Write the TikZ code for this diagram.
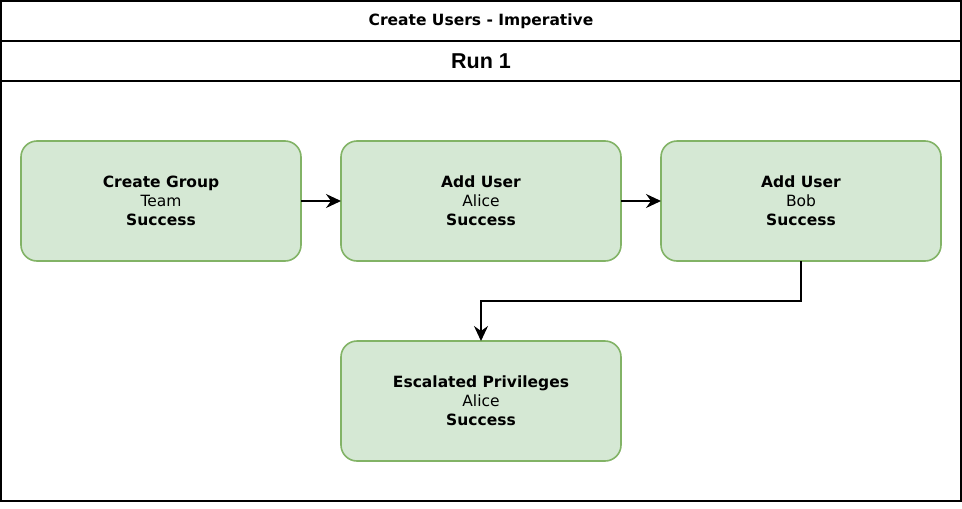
\documentclass[tikz,border=0pt]{standalone}
\usepackage{fontspec}
\setmainfont{DejaVu Sans}
\newfontfamily\runfont{Liberation Sans}
\usetikzlibrary{positioning,arrows.meta}
\definecolor{taskfill}{HTML}{D5E8D4}
\definecolor{taskline}{HTML}{82B366}
\begin{document}
\begin{tikzpicture}[x=1pt, y=-1pt,
lane/.style={draw, line width=2pt, minimum width=960pt, inner sep=0pt},
task/.style={draw=taskline, fill=taskfill, line width=1.6pt, rounded corners=16pt,
  minimum width=280pt, minimum height=120pt, align=center, outer sep=0pt,
  font=\fontsize{15.5}{19}\selectfont},
flow/.style={-{Stealth[length=15pt,width=14pt,inset=5pt]}, line width=1.8pt}]
\useasboundingbox (0,0) rectangle (962,509);
% pool and lane
\node[lane, minimum height=40pt, font=\bfseries\fontsize{15.5}{18}\selectfont] (title) at (481,21) {Create Users - Imperative};
\node[lane, minimum height=40pt, font=\runfont\bfseries\fontsize{21.5}{24}\selectfont] (run) at (481,61) {Run 1};
\node[lane, minimum height=420pt] (body) at (481,291) {};
% tasks
\node[task] (group) at (161,201) {\textbf{Create Group}\\Team\\\textbf{Success}};
\node[task, right=40pt of group] (alice) {\textbf{Add User}\\Alice\\\textbf{Success}};
\node[task, right=40pt of alice] (bob) {\textbf{Add User}\\Bob\\\textbf{Success}};
\node[task, below=80pt of alice] (priv) {\textbf{Escalated Privileges}\\Alice\\\textbf{Success}};
% connectors
\draw[flow] (group) -- (alice);
\draw[flow] (alice) -- (bob);
\draw[flow] (bob.south) -- ++(0,40) -| (priv.north);
\end{tikzpicture}
\end{document}
